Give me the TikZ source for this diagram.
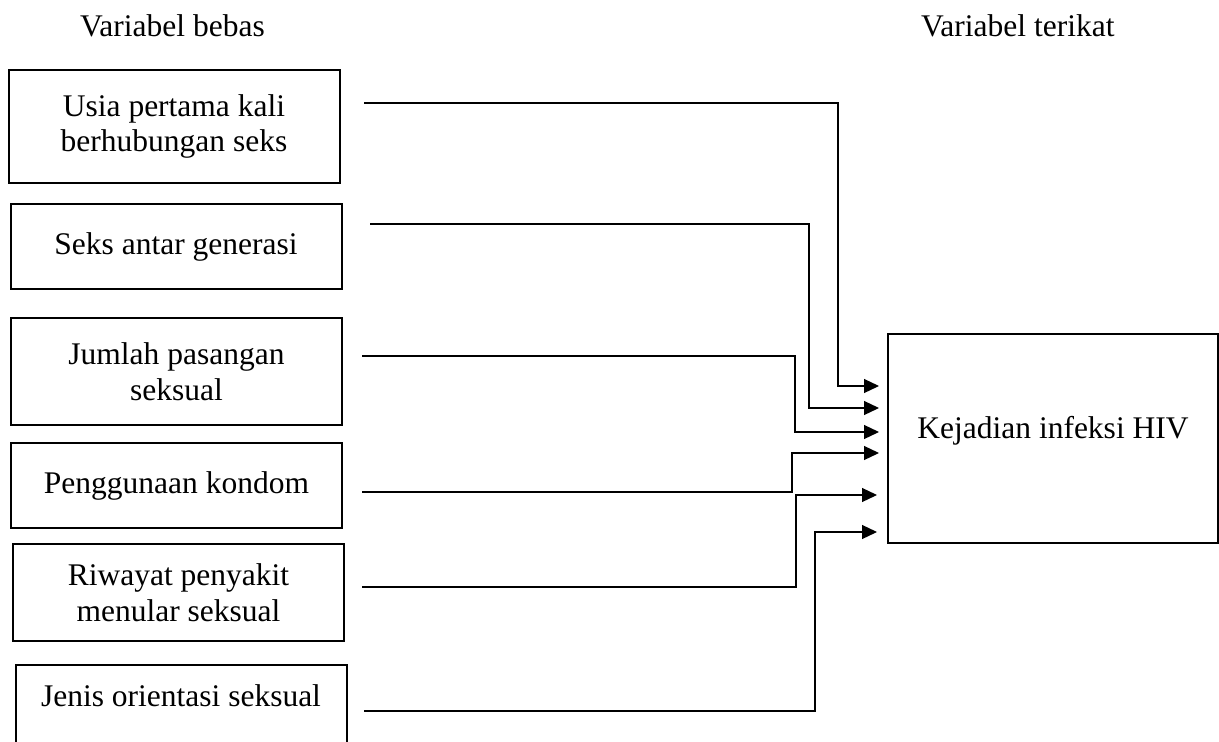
\documentclass[tikz,border=0pt]{standalone}
\usepackage{fontspec}
\setmainfont{Liberation Serif}
\usetikzlibrary{arrows.meta}

\begin{document}
\begin{tikzpicture}[x=1pt, y=-1pt, >={Triangle[length=15pt, width=14pt]},
  font=\fontsize{31.5}{35.5}\selectfont,
  varbox/.style={draw, line width=2pt, minimum width=331pt, align=center, inner sep=0pt},
  link/.style={->, line width=1.2pt}]
  \path[use as bounding box, clip] (0,0) rectangle (1219,742);
  % Headings
  \node[anchor=base west, inner sep=0pt] (bebas) at (80,36) {Variabel bebas};
  \node[anchor=base west, inner sep=0pt] (terikat) at (921,36) {Variabel terikat};
  % Independent variables
  \node[varbox, minimum height=113pt] (usia) at (174,126.5) {Usia pertama kali\\berhubungan seks};
  \node[varbox, minimum height=85pt] (seks) at (176,246.5) {Seks antar generasi};
  \node[varbox, minimum height=107pt] (jumlah) at (176.5,371.5) {Jumlah pasangan\\seksual};
  \node[varbox, minimum height=85pt] (kondom) at (176.5,485.5) {Penggunaan kondom};
  \node[varbox, minimum height=97pt] (riwayat) at (178.5,592.5) {Riwayat penyakit\\menular seksual};
  % last box runs past the lower edge
  \node[varbox, anchor=north, text height=41pt, text depth=60pt] (jenis) at (181,664) {Jenis orientasi seksual};
  % Dependent variable
  \node[varbox, minimum width=330pt, minimum height=209pt, text depth=22.5pt] (hiv) at (1053,438.5) {Kejadian infeksi HIV};
  % Free ends of the connectors
  \coordinate (usia out) at (364,103);
  \coordinate (seks out) at (370,224);
  \coordinate (jumlah out) at (362,356);
  \coordinate (kondom out) at (362,492);
  \coordinate (riwayat out) at (362,587);
  \coordinate (jenis out) at (364,711);
  \coordinate (in1) at (879,386);
  \coordinate (in2) at (879,408);
  \coordinate (in3) at (879,432);
  \coordinate (in4) at (879,453);
  \coordinate (in5) at (877,495);
  \coordinate (in6) at (877,532);
  % Connectors
  \draw[link] (usia out) -| (838,386) -- (in1);
  \draw[link] (seks out) -| (809,408) -- (in2);
  \draw[link] (jumlah out) -| (795,432) -- (in3);
  \draw[link] (kondom out) -| (792,453) -- (in4);
  \draw[link] (riwayat out) -| (796,495) -- (in5);
  \draw[link] (jenis out) -| (815,532) -- (in6);
\end{tikzpicture}
\end{document}
